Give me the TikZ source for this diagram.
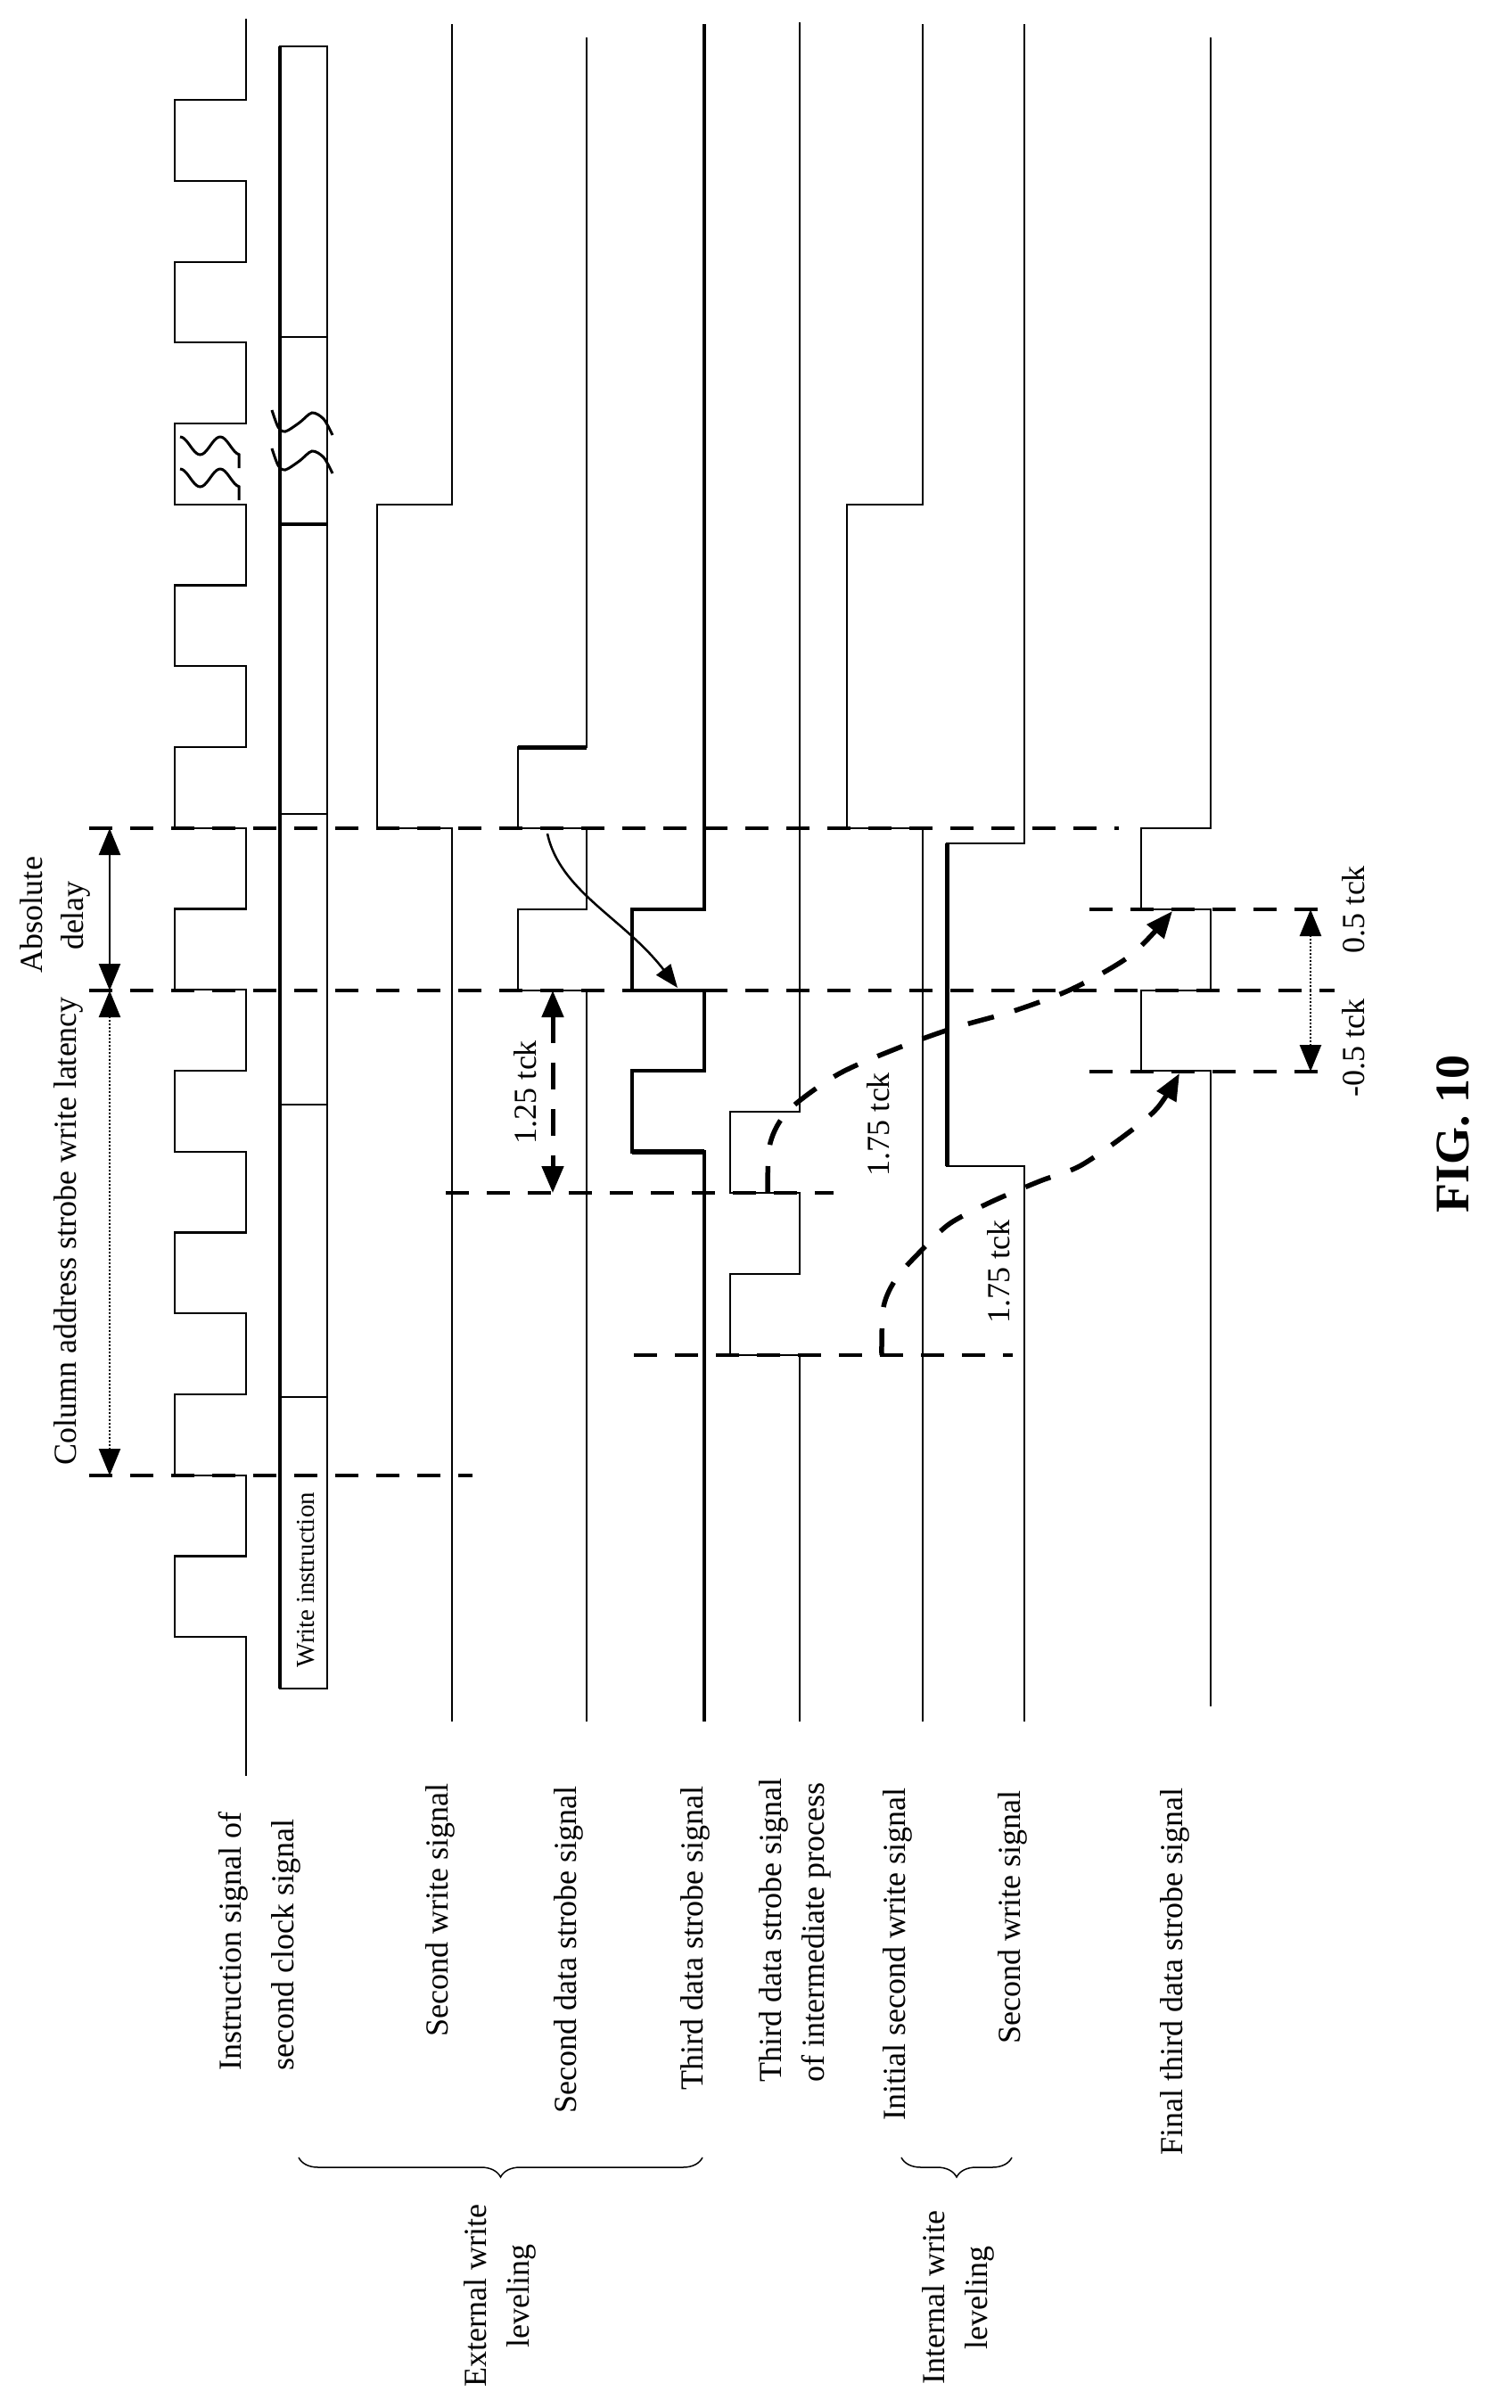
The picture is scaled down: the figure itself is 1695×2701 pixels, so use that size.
\documentclass[tikz,border=0pt]{standalone}
\usepackage{fontspec}
\setmainfont{Liberation Serif}
\usetikzlibrary{arrows.meta,decorations.pathreplacing}
\begin{document}
\begin{tikzpicture}[x=1pt,y=-1pt,
  sig/.style={line width=2.2pt},
  thk/.style={line width=5pt},
  dl/.style={line width=4.5pt,dash pattern=on 26pt off 20pt},
  dcurve/.style={line width=5.5pt,dash pattern=on 30pt off 24pt},
  dotsh/.style={line width=2.5pt,dash pattern=on 2pt off 2pt},
  tip/.style={{Triangle[width=24pt,length=30pt]}-{Triangle[width=24pt,length=30pt]}},
  tipe/.style={-{Triangle[width=24pt,length=30pt]}},
  lbl/.style={rotate=90,anchor=west,inner sep=0pt,font=\fontsize{36}{42}\selectfont},
  ctr/.style={rotate=90,inner sep=0pt,font=\fontsize{36}{42}\selectfont},
  brc/.style={line width=1.5pt,decorate,decoration={brace,amplitude=22pt}}]
\useasboundingbox (0,0) rectangle (1695,2701);
% clock
\draw[sig] (276,21) -- (276,112) -- (196,112) -- (196,203) -- (276,203) -- (276,294) -- (196,294) -- (196,384) -- (276,384) -- (276,475) -- (196,475) -- (196,566) -- (276,566)
  \foreach \k in {6,8,10,12,14,16,18} { -- (276,{112+90.75*\k}) -- (196,{112+90.75*\k}) -- (196,{112+90.75*(\k+1)}) -- (276,{112+90.75*(\k+1)}) } -- (276,1992);
\draw[sig] (196,475) -- (276,475);
\foreach \o in {0,36}{
  \draw[line width=3pt] plot[domain=0:66,samples=30] ({202+\x},{500+\o-10*cos(8*\x)}) -- (268,{525+\o});}
% write instruction box
\draw[sig] (314,52) rectangle (367,1894);
\draw[line width=4pt] (314,52) -- (314,1894);
\foreach \y in {378,588,913,1239,1567}{\draw[sig] (314,\y) -- (367,\y);}
\draw[line width=4pt] (314,588) -- (367,588);
\foreach \o in {0,43}{
  \draw[line width=3pt] plot[smooth] coordinates {(305,{460+\o}) (312,{479+\o}) (320,{484+\o}) (336,{474+\o}) (350,{463+\o}) (363,{470+\o}) (373,{488+\o})};}
\node[rotate=90,inner sep=0pt,font=\fontsize{29}{32}\selectfont] (wi) at (343,1772) {Write instruction};
% second write signal (external)
\draw[sig] (507,27) -- (507,566) -- (423,566) -- (423,929) -- (507,929) -- (507,1931);
% second data strobe
\draw[sig] (658,42) -- (658,838) -- (581,838) -- (581,929) -- (658,929) -- (658,1020) -- (581,1020) -- (581,1111) -- (658,1111) -- (658,1931);
\draw[thk] (581,838) -- (658,838);
% third data strobe
\draw[line width=4.5pt] (790,27) -- (790,1020) -- (709,1020) -- (709,1111) -- (790,1111) -- (790,1201) -- (709,1201) -- (709,1292) -- (790,1292) -- (790,1931);
\draw[line width=6pt] (709,1292) -- (790,1292);
% intermediate
\draw[sig] (897,25) -- (897,1247) -- (819,1247) -- (819,1338) -- (897,1338) -- (897,1429) -- (819,1429) -- (819,1520) -- (897,1520) -- (897,1931);
% initial second write
\draw[sig] (1035,27) -- (1035,566) -- (950,566) -- (950,929) -- (1035,929) -- (1035,1931);
% second write (internal)
\draw[sig] (1149,27) -- (1149,946) -- (1062,946) -- (1062,1308) -- (1149,1308) -- (1149,1931);
\draw[thk] (1062,946) -- (1062,1308);
% final third data strobe
\draw[sig] (1358,42) -- (1358,929) -- (1280,929) -- (1280,1020) -- (1358,1020) -- (1358,1111) -- (1280,1111) -- (1280,1201) -- (1358,1201) -- (1358,1914);
% dashed reference lines
\draw[dl] (100,929) -- (1255,929);
\draw[dl] (100,1111) -- (1497,1111);
\draw[dl] (100,1655) -- (530,1655);
\draw[dl] (500,1338) -- (935,1338);
\draw[dl] (711,1520) -- (1136,1520);
\draw[dl] (1222,1020) -- (1497,1020);
\draw[dl] (1222,1202) -- (1497,1202);
% dimension arrows
\draw[line width=2.5pt,tip] (123,929) -- (123,1111);
\draw[dotsh,tip] (123,1111) -- (123,1655);
\draw[line width=5pt,dash pattern=on 30pt off 22pt,tip] (620,1111) -- (620,1338);
\draw[dotsh,tipe] (1470,1111) -- (1470,1020);
\draw[dotsh,tipe] (1470,1111) -- (1470,1202);
% curved arrows
\draw[line width=2.5pt,-{Triangle[width=20pt,length=26pt]}] (614,935) .. controls (628,1000) and (700,1030) .. (760,1108);
\draw[dcurve,tipe] plot[smooth] coordinates {(861,1338) (864,1282) (885,1245) (940,1205) (1006,1176) (1070,1153) (1137,1134) (1203,1109) (1269,1071) (1315,1022)};
\draw[dcurve,tipe] plot[smooth] coordinates {(989,1520) (991,1466) (1006,1433) (1037,1399) (1066,1372) (1112,1348) (1166,1325) (1211,1308) (1261,1274) (1298,1243) (1323,1204)};
% dimension labels
\node[ctr] (ab1) at (35,1026) {Absolute};
\node[ctr] (ab2) at (85,1027) {delay};
\node[ctr] (cl) at (77,1381) {Column address strobe write latency};
\node[ctr] (t1) at (589,1225) {1.25 tck};
\node[ctr] (t2) at (985,1261) {1.75 tck};
\node[ctr] (t3) at (1120,1426) {1.75 tck};
\node[ctr] (t4) at (1518,1020) {0.5 tck};
\node[ctr] (t5) at (1518,1175) {-0.5 tck};
% signal labels
\node[lbl] (l1a) at (262,2323) {Instruction signal of};
\node[lbl] (l1b) at (321,2323) {second clock signal};
\node[lbl] (l2) at (494,2285) {Second write signal};
\node[lbl] (l3) at (638,2371) {Second data strobe signal};
\node[lbl] (l4) at (780,2345) {Third data strobe signal};
\node[lbl] (l5a) at (868,2336) {Third data strobe signal};
\node[lbl] (l5b) at (916,2336) {of intermediate process};
\node[lbl] (l6) at (1007,2379) {Initial second write signal};
\node[lbl] (l7) at (1136,2293) {Second write signal};
\node[lbl] (l8) at (1318,2418) {Final third data strobe signal};
% braces
\draw[brc] (788,2420) -- (335,2420);
\draw[brc] (1135,2420) -- (1011,2420);
\node[ctr] (e1) at (533,2575) {External write};
\node[ctr] (e2) at (585,2575) {leveling};
\node[ctr] (i1) at (1047,2577) {Internal write};
\node[ctr] (i2) at (1099,2577) {leveling};
\node[rotate=90,inner sep=0pt,font=\fontsize{54}{60}\selectfont\bfseries] (fig) at (1630,1272) {FIG. 10};
\end{tikzpicture}
\end{document}
